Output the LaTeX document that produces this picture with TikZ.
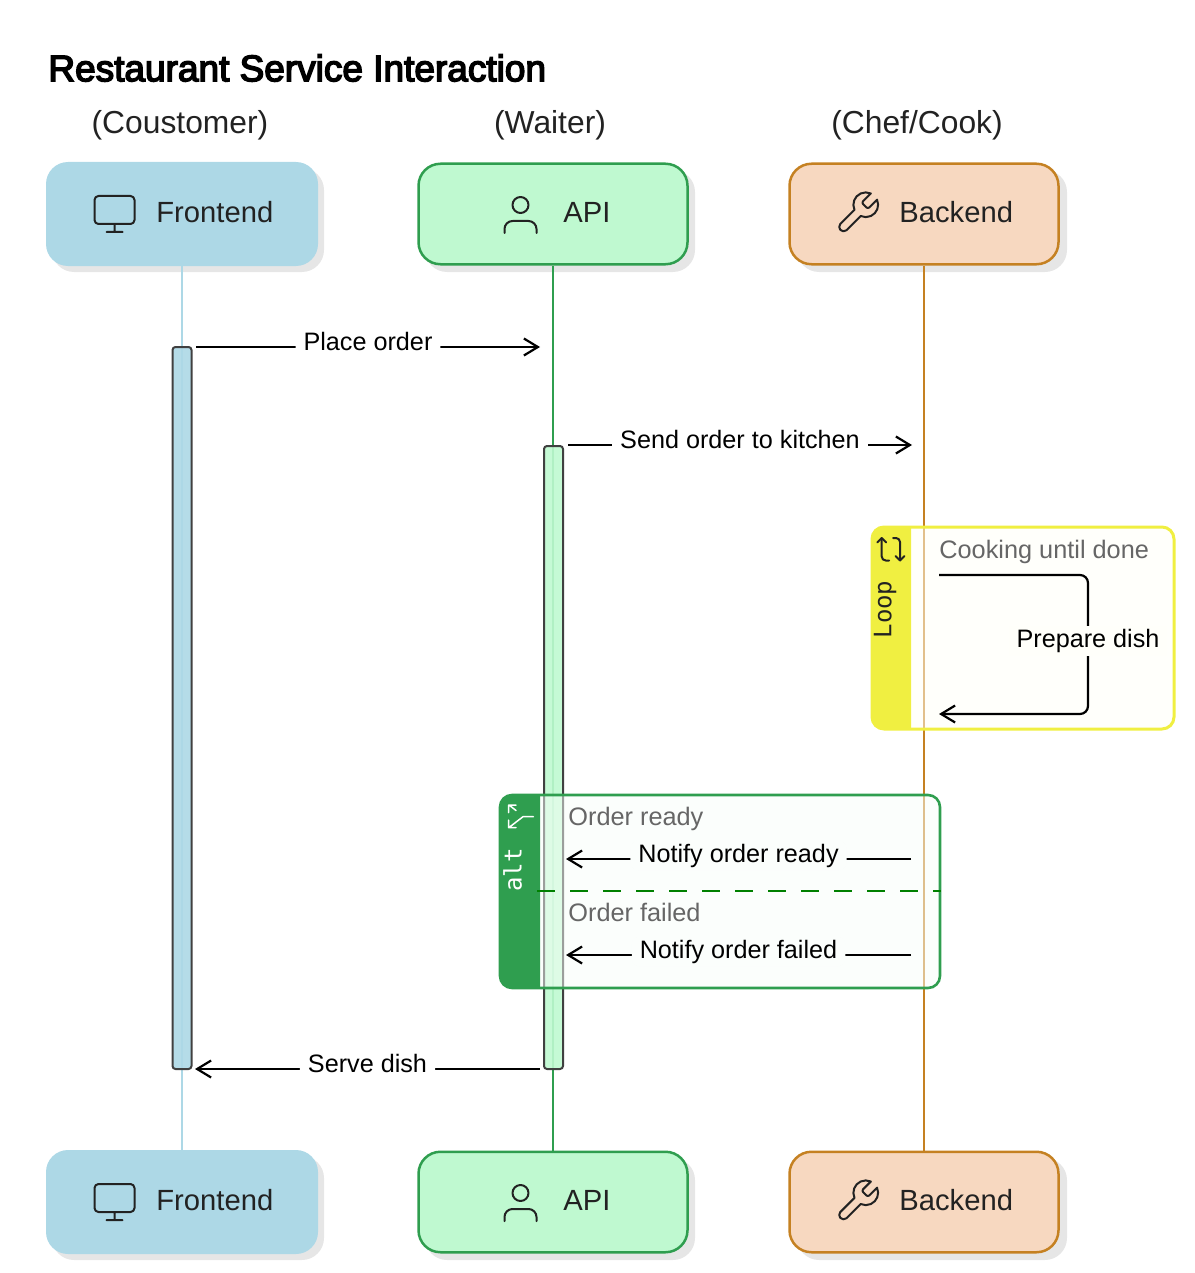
\documentclass[tikz,border=0pt]{standalone}
\usepackage{fontspec}
\setmainfont{Liberation Sans}
\newfontfamily\monofont{DejaVu Sans Mono}
\newfontfamily\titlefont[FakeBold=4]{Liberation Sans}
\usetikzlibrary{arrows.meta,svg.path}
\definecolor{frontfill}{HTML}{ADD8E6}
\definecolor{apifill}{HTML}{BFF9D0}
\definecolor{apiline}{HTML}{2F9E4F}
\definecolor{backfill}{HTML}{F7D8C0}
\definecolor{backline}{HTML}{C58122}
\definecolor{loopline}{HTML}{F0EF41}
\definecolor{loopbody}{HTML}{FFFFF7}
\definecolor{altbody}{HTML}{F7FDF9}
\definecolor{shadowgray}{HTML}{E6E6E6}
\definecolor{notegray}{HTML}{666666}
\definecolor{textdark}{HTML}{222222}
\tikzset{
  actorbox/.style={rectangle,rounded corners=11pt,minimum width=134.5pt,minimum height=50.25pt,inner sep=0pt,line width=1.25pt},
  actorshadow/.style={actorbox,fill=shadowgray},
  actortext/.style={anchor=west,inner sep=0pt,font=\fontsize{14.6}{15}\selectfont,text=textdark},
  bar/.style={rectangle,rounded corners=1.5pt,minimum width=9.5pt,inner sep=0pt,line width=1pt,draw=black!75},
  lifeline/.style={line width=1pt},
  msg/.style={line width=1.1pt,-{Straight Barb[length=7pt,width=8.5pt,line width=1.1pt]},rounded corners=4pt},
  msgtext/.style={fill=white,inner xsep=4pt,inner ysep=1pt,text height=10pt,text depth=3pt,font=\fontsize{12.6}{14}\selectfont},
  actortitle/.style={inner sep=0pt,font=\fontsize{15.9}{18}\selectfont,text=textdark},
  sectiontext/.style={anchor=base west,inner sep=0pt,text=notegray,font=\fontsize{12.65}{14}\selectfont},
  fragbody/.style={fill opacity=.5,rounded corners=6pt},
  fraghead/.style={rotate=90,inner sep=0pt,font=\monofont\fontsize{12}{12}\selectfont},
  icon/.style={draw=textdark,line width=1pt,line cap=round,line join=round},
  monitor/.pic={\draw[icon,shift={(-12pt,12pt)},yscale=-1] svg "M4 3 H20 a2 2 0 0 1 2 2 V15 a2 2 0 0 1 -2 2 H4 a2 2 0 0 1 -2 -2 V5 a2 2 0 0 1 2 -2 z M8 21 H16 M12 17 V21";},
  person/.pic={\draw[icon,shift={(-12pt,12pt)},yscale=-1] svg "M20 21 v-2 a4 4 0 0 0 -4 -4 H8 a4 4 0 0 0 -4 4 v2";
    \draw[icon] (0,-10) circle[radius=4pt];},
  wrench/.pic={\draw[icon,scale=1.03,shift={(-12pt,12pt)},yscale=-1] svg "M14.7 6.3 a1 1 0 0 0 0 1.4 l1.6 1.6 a1 1 0 0 0 1.4 0 l3.77 -3.77 a6 6 0 0 1 -7.94 7.94 l-6.91 6.91 a2.13 2.13 0 0 1 -3 -3 l6.91 -6.91 a6 6 0 0 1 7.94 -7.94 l-3.76 3.76 z";}
}
\begin{document}
\begin{tikzpicture}[x=.5pt,y=-.5pt]
\useasboundingbox (0,0) rectangle (1194,1273);

% shadows
\foreach \ypos in {214,1202}{
  \node[actorshadow,minimum width=136pt,minimum height=52pt] at (188,\ypos+6) {};
  \node[actorshadow,minimum width=135pt,minimum height=51pt] at (560,\ypos+7) {};
  \node[actorshadow,minimum width=135pt,minimum height=51pt] at (932,\ypos+7) {};
}

% lifelines
\path
(182,214) node[actorbox] (f1) {}
(182,1202) node[actorbox] (f2) {}
(553,214) node[actorbox] (a1) {}
(553,1202) node[actorbox] (a2) {}
(924,214) node[actorbox] (b1) {}
(924,1202) node[actorbox] (b2) {};
\draw[lifeline,frontfill] (f1)--(f2);
\draw[lifeline,apiline] (a1)--(a2);
\draw[lifeline,backline,line width=1.3pt] (b1)--(b2);

% actors, top and bottom row
\foreach \ypos/\row in {214/t,1202/u}{
  \node[actorbox,fill=frontfill,minimum width=136pt,minimum height=52pt,line width=0pt] (front\row) at (182,\ypos) {};
  \node[actorbox,fill=apifill,draw=apiline] (api\row) at (553,\ypos) {};
  \node[actorbox,fill=backfill,draw=backline] (back\row) at (924,\ypos) {};
  \pic at (114.5,\ypos) {monitor};
  \pic at (520.5,\ypos+1) {person};
  \pic at (857.5,\ypos-1) {wrench};
  \node[actortext] (flabel\row) at (156,\ypos-2) {Frontend};
  \node[actortext] (alabel\row) at (563,\ypos-2) {API};
  \node[actortext] (blabel\row) at (899,\ypos-2) {Backend};
}

\node[anchor=west,inner sep=0pt,font=\titlefont\fontsize{18.5}{20}\selectfont] (title) at (48,68) {Restaurant Service Interaction};
\node[actortitle] (ct) at (180,125) {(Coustomer)};
\node[actortitle] (wt) at (550,125) {(Waiter)};
\node[actortitle] (kt) at (917,125) {(Chef/Cook)};

% activations
\node[bar,fill=frontfill,fill opacity=.9,minimum height=361pt] (fbar) at (182,708) {};
\node[bar,fill=apifill,fill opacity=.9,minimum height=311.5pt] (abar) at (553.5,757.5) {};

% loop fragment
\fill[fragbody,loopbody] (872,527) rectangle (1174,729);
\fill[loopline] (911,527) [rounded corners=6pt] -- (872,527) -- (872,729) [sharp corners] -- (911,729) -- cycle;
\draw[draw=loopline,line width=1.5pt,rounded corners=6pt] (872,527) rectangle (1174,729);
\draw[line width=1pt,textdark,line cap=round,line join=round,rounded corners=2pt]
  (889,560.5) -- (881.7,560.5) -- (881.7,538)
  (893,538) -- (900,538) -- (900,560.5);
\draw[line width=1pt,textdark,line cap=round,line join=round]
  (877.2,542.5) -- (881.7,538) -- (886.2,542.5)
  (895.5,556) -- (900,560.5) -- (904.5,556);
\node[fraghead,text=textdark] (looptxt) at (885,609.5) {Loop};
\node[sectiontext] (loopsec) at (939,558) {Cooking until done};

% alt fragment
\fill[fragbody,altbody] (500,795) rectangle (940,988);
\fill[apiline] (540,795) [rounded corners=6pt] -- (500,795) -- (500,988) [sharp corners] -- (540,988) -- cycle;
\draw[draw=apiline,line width=1.3pt,rounded corners=6pt] (500,795) rectangle (940,988);
\draw[line width=.75pt,white,line cap=round,line join=round]
  (533.3,816.7) -- (523,816.7) -- (509,827.5)
  (516,810.5) -- (509,805)
  (516,805) -- (508.5,805) -- (508.5,812.5)
  (516,827.7) -- (508.5,827.7) -- (508.5,820);
\node[fraghead,text=white] (alttxt) at (512.5,870) {alt};
\node[sectiontext] (altsec1) at (568,825) {Order ready};
\node[sectiontext] (altsec2) at (568,921) {Order failed};
\coordinate (altl) at (537,891);
\coordinate (altr) at (941,891);
\draw[line width=.75pt,green!50!black,dash pattern=on 9pt off 7.5pt] (altl)--(altr);

% messages
\coordinate (m1s) at (196,347);
\coordinate (m1e) at (540,347);
\coordinate (m2s) at (568,445);
\coordinate (m2e) at (912,445);
\coordinate (m3s) at (939,575);
\coordinate (m3a) at (1088,575);
\coordinate (m3b) at (1088,714);
\coordinate (m3e) at (939,714);
\coordinate (m4s) at (911,859);
\coordinate (m4e) at (566,859);
\coordinate (m5s) at (911,955);
\coordinate (m5e) at (566,955);
\coordinate (m6s) at (540,1069);
\coordinate (m6e) at (195,1069);
\draw[msg] (m1s)--(m1e) node[pos=.5,msgtext,yshift=1.75pt] (m1t) {Place order};
\draw[msg] (m2s)--(m2e) node[pos=.5,msgtext,yshift=1.75pt] (m2t) {Send order to kitchen};
\draw[msg] (m3s)--(m3a)--(m3b)--(m3e);
\node[msgtext,fill=white!98!yellow] (m3t) at (1088,640.7) {Prepare dish};
\draw[msg] (m4s)--(m4e) node[pos=.5,msgtext,fill=altbody!50!white,yshift=1.75pt] (m4t) {Notify order ready};
\draw[msg] (m5s)--(m5e) node[pos=.5,msgtext,fill=altbody!50!white,yshift=1.75pt] (m5t) {Notify order failed};
\draw[msg] (m6s)--(m6e) node[pos=.5,msgtext,yshift=1.75pt] (m6t) {Serve dish};
\end{tikzpicture}
\end{document}
